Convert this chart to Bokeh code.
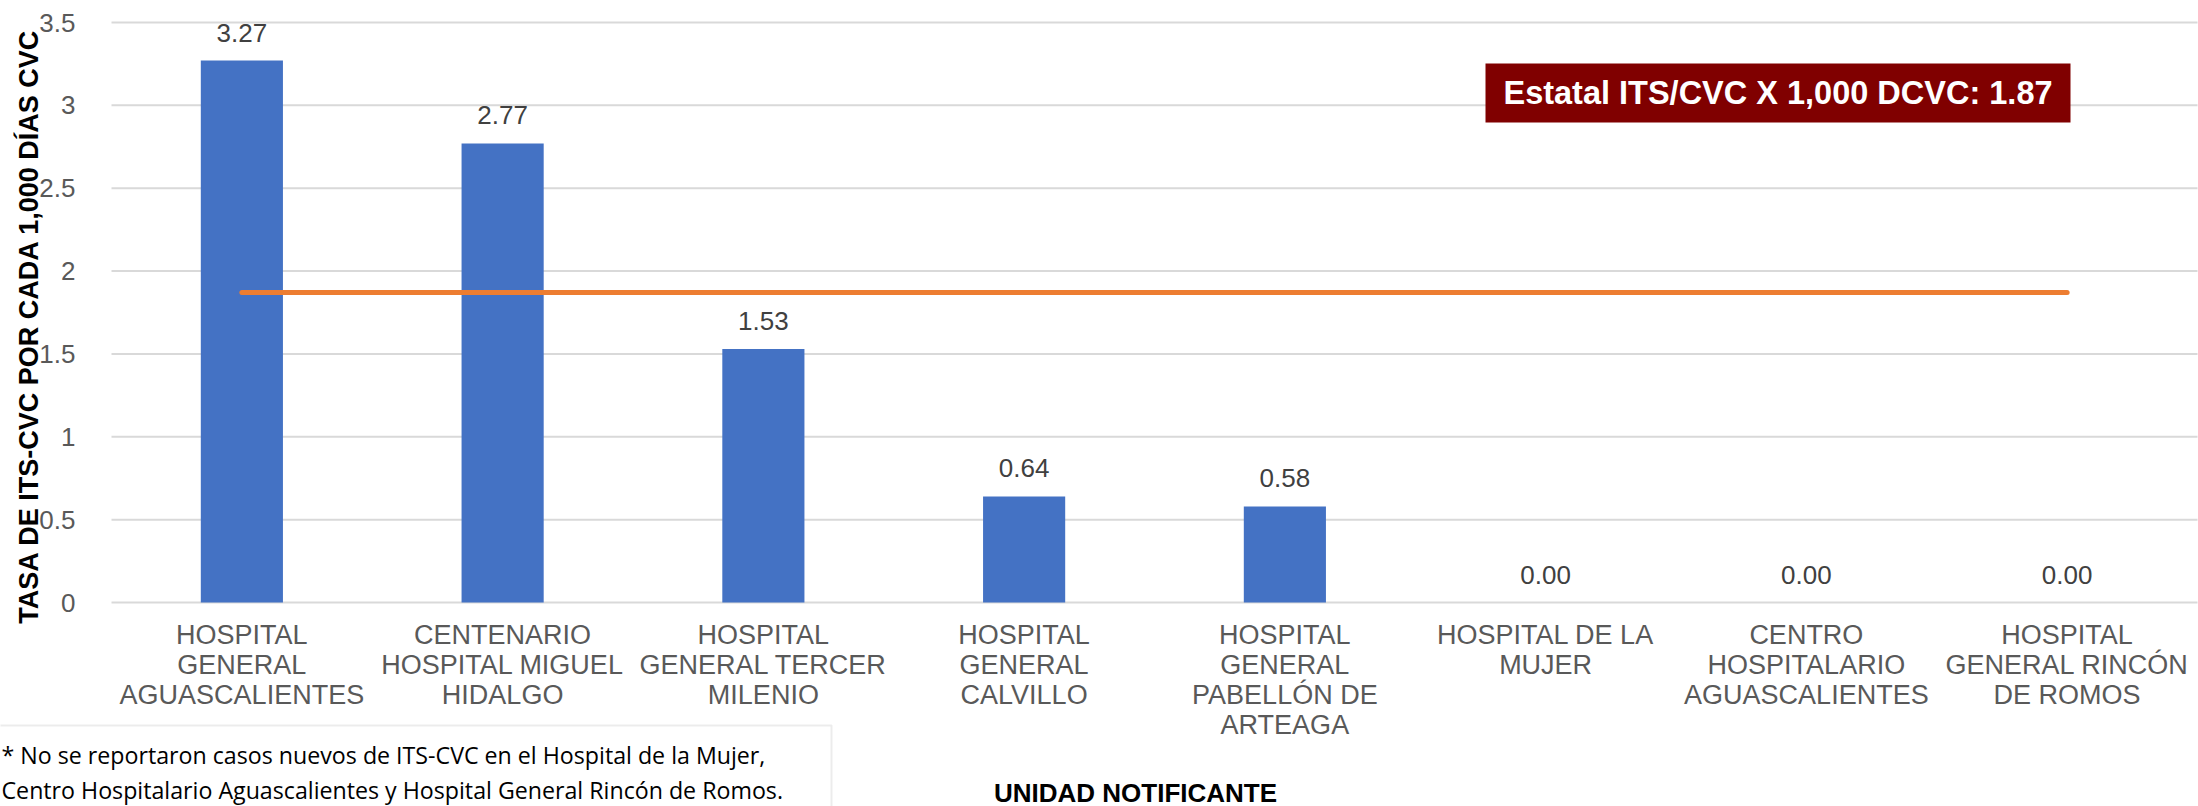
from bokeh.plotting import figure
from bokeh.models import (Range1d, FixedTicker, CustomJSTickFormatter, Label, BoxAnnotation,
                          ColumnDataSource)
from bokeh.core.properties import value
from bokeh.embed import file_html
from bokeh.resources import INLINE

# ---- data ----
CATEGORIES = [
    "HOSPITAL\nGENERAL\nAGUASCALIENTES",
    "CENTENARIO\nHOSPITAL MIGUEL\nHIDALGO",
    "HOSPITAL\nGENERAL TERCER\nMILENIO",
    "HOSPITAL\nGENERAL\nCALVILLO",
    "HOSPITAL\nGENERAL\nPABELLÓN DE\nARTEAGA",
    "HOSPITAL DE LA\nMUJER",
    "CENTRO\nHOSPITALARIO\nAGUASCALIENTES",
    "HOSPITAL\nGENERAL RINCÓN\nDE ROMOS",
]
RATES = [3.27, 2.77, 1.53, 0.64, 0.58, 0.00, 0.00, 0.00]
RATE_LABELS = ["3.27", "2.77", "1.53", "0.64", "0.58", "0.00", "0.00", "0.00"]
ESTATAL = 1.87
ESTATAL_TEXT = "Estatal ITS/CVC X 1,000 DCVC: 1.87"
Y_TICKS = [0, 0.5, 1, 1.5, 2, 2.5, 3, 3.5]
Y_TITLE = "TASA DE ITS-CVC  POR CADA 1,000 DÍAS CVC"
X_TITLE = "UNIDAD NOTIFICANTE"
NOTE = ("* No se reportaron casos nuevos de ITS-CVC en el Hospital de la Mujer,\n"
        "Centro Hospitalario Aguascalientes y Hospital General Rincón de Romos.")

FONT = "Liberation Sans"

# ---- layout geometry (pixels on the canvas) ----
W, H = 2198, 806
CAT_LEFT_PX = 111          # left edge of first category slot
CAT_W_PX = 260.75          # width of one category slot
Y0_PX, YTOP_PX = 602, 22   # pixel rows of y=0 and y=Y_TICKS[-1]
Y_PER_PX = (Y_TICKS[-1] - Y_TICKS[0]) / (Y0_PX - YTOP_PX)


def px_x(px):
    return (px - CAT_LEFT_PX) / CAT_W_PX


def px_y(py):
    return (Y0_PX - py) * Y_PER_PX


n = len(CATEGORIES)
xs = [i + 0.5 for i in range(n)]

p = figure(
    x_range=Range1d(px_x(0), px_x(W)),
    y_range=Range1d(px_y(H), px_y(0)),
    width=W, height=H,
    min_border=0,
    output_backend="svg", toolbar_location=None,
)
p.outline_line_color = None
p.background_fill_color = "white"
p.xgrid.grid_line_color = None
p.ygrid.grid_line_color = None

# gridlines across the category slots
p.segment(x0=[0] * len(Y_TICKS), x1=[n] * len(Y_TICKS), y0=Y_TICKS, y1=Y_TICKS,
          line_color="#D9D9D9", line_width=2)

src = ColumnDataSource(dict(x=xs, rate=RATES, lab=RATE_LABELS))
p.vbar(x="x", top="rate", width=0.315, source=src, fill_color="#4472C4", line_color=None)

p.text(x="x", y="rate", text="lab", source=src, y_offset=-28,
       text_align="center", text_baseline="alphabetic",
       text_font=value(FONT), text_font_size="26px", text_color="#404040")

p.line(x=[xs[0], xs[-1]], y=[ESTATAL, ESTATAL],
       line_color="#ED7D31", line_width=5, line_cap="round")

# y axis
ya = p.yaxis[0]
ya.fixed_location = 0
ya.bounds = (Y_TICKS[0] - 0.12, Y_TICKS[-1])
ya.ticker = FixedTicker(ticks=Y_TICKS)
ya.formatter = CustomJSTickFormatter(code="return String(tick);")
ya.axis_line_color = None
ya.major_tick_line_color = None
ya.minor_tick_line_color = None
ya.major_label_standoff = 30
ya.major_label_text_font = FONT
ya.major_label_text_font_size = "26px"
ya.major_label_text_color = "#595959"
ya.axis_label = Y_TITLE
ya.axis_label_text_font = FONT
ya.axis_label_text_font_style = "bold"
ya.axis_label_text_font_size = "27px"
ya.axis_label_text_color = "black"
ya.axis_label_standoff = -8

# x axis
xa = p.xaxis[0]
xa.fixed_location = 0
xa.bounds = (0, n)
xa.ticker = FixedTicker(ticks=xs)
xa.formatter = CustomJSTickFormatter(args=dict(labels=CATEGORIES),
                                     code="return labels[Math.floor(tick)];")
xa.axis_line_color = None
xa.major_tick_line_color = None
xa.minor_tick_line_color = None
xa.major_label_standoff = 11
xa.major_label_text_font = FONT
xa.major_label_text_font_size = "27px"
xa.major_label_text_color = "#595959"
xa.major_label_text_line_height = 1.0
xa.major_label_orientation = "horizontal"

# x title
p.add_layout(Label(x=px_x(1135), y=px_y(792), text=X_TITLE,
                   text_align="center", text_baseline="middle",
                   text_font=FONT, text_font_style="bold", text_font_size="26px",
                   text_color="black"))

# estatal box
p.add_layout(BoxAnnotation(left=px_x(1485), right=px_x(2070), top=px_y(63), bottom=px_y(122),
                           fill_color="#800000", fill_alpha=1, line_color=None))
p.add_layout(Label(x=px_x(1777.5), y=px_y(92.5), text=ESTATAL_TEXT,
                   text_align="center", text_baseline="middle",
                   text_font=FONT, text_font_style="bold", text_font_size="32.5px",
                   text_color="white"))

# note box
p.add_layout(BoxAnnotation(left=px_x(-20), right=px_x(831), top=px_y(725), bottom=px_y(H + 20),
                           fill_color="white", fill_alpha=1, line_color="#BFBFBF", line_width=2))
p.add_layout(Label(x=px_x(1), y=px_y(738), text=NOTE,
                   text_align="left", text_baseline="top",
                   text_font="Open Sans", text_font_size="23.2px", text_color="black",
                   text_line_height=1.1))

open("out.html", "w").write(file_html(p, INLINE))
